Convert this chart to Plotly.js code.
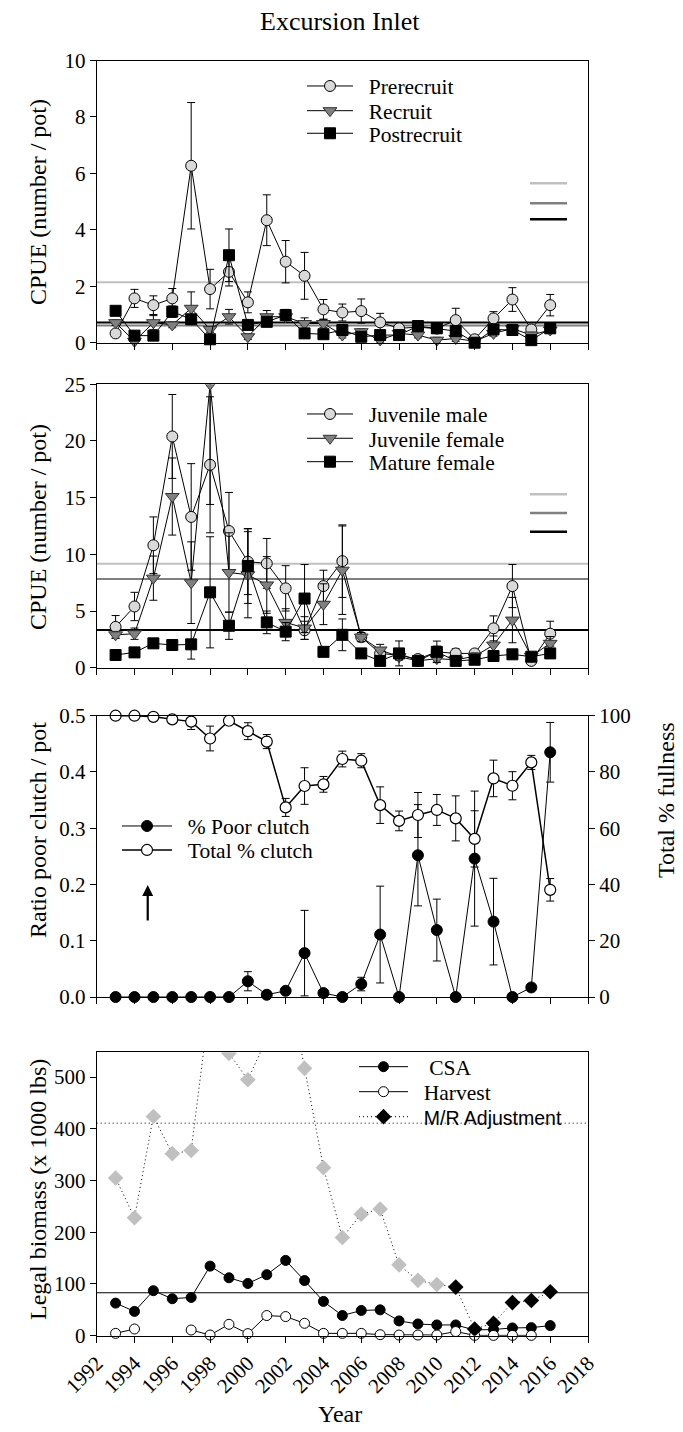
<!DOCTYPE html>
<html><head><meta charset="utf-8">
<script src="https://cdn.plot.ly/plotly-3.0.1.min.js"></script>
<style>html,body{margin:0;padding:0;background:#fff}#chart{width:683px;height:1432px}</style>
</head><body><div id="chart"></div>
<script>
// ---------------- DATA ----------------
const years = [1993,1994,1995,1996,1997,1998,1999,2000,2001,2002,2003,2004,2005,2006,2007,2008,2009,2010,2011,2012,2013,2014,2015,2016];
const xTicks = [1992,1994,1996,1998,2000,2002,2004,2006,2008,2010,2012,2014,2016,2018];

// Panel 1: legal-size CPUE
const prerecruit    = [0.33,1.57,1.33,1.57,6.27,1.90,2.51,1.43,4.34,2.87,2.37,1.18,1.07,1.12,0.72,0.51,0.55,0.50,0.80,0.12,0.86,1.53,0.47,1.33];
const prerecruitErr = [0.10,0.32,0.33,0.35,2.24,0.70,0.50,0.37,0.90,0.75,0.83,0.35,0.30,0.43,0.32,0.12,0.15,0.15,0.42,0.10,0.24,0.42,0.10,0.38];
const recruit       = [0.71,0.05,0.71,0.63,1.22,0.47,0.92,0.21,0.92,0.92,0.68,0.68,0.27,0.39,0.10,0.33,0.27,0.09,0.15,0.05,0.33,0.50,0.27,0.45];
const recruitErr    = [0.10,0.05,0.25,0.10,0.58,0.10,0.26,0.10,0.22,0.10,0.20,0.15,0.10,0.10,0.10,0.10,0.10,0.10,0.10,0.05,0.10,0.15,0.10,0.10];
const postrecruit   = [1.13,0.25,0.25,1.10,0.83,0.12,3.10,0.63,0.74,0.98,0.33,0.30,0.45,0.21,0.27,0.27,0.59,0.51,0.41,0.00,0.47,0.45,0.09,0.51];
const postrecruitErr= [0.15,0.05,0.05,0.20,0.15,0.05,0.93,0.10,0.10,0.20,0.10,0.10,0.10,0.05,0.05,0.05,0.10,0.10,0.10,0.00,0.10,0.10,0.05,0.10];
const meanLines1 = [2.14, 0.61, 0.72];   // prerecruit, recruit, postrecruit long-term means

// Panel 2: juvenile / female CPUE
const juvMale      = [3.6,5.4,10.8,20.4,13.3,17.9,12.06,9.35,9.2,7.0,3.3,7.2,9.4,2.7,1.26,1.1,0.76,1.4,1.26,1.26,3.47,7.2,0.6,3.0];
const juvMaleErr   = [1.0,1.25,2.5,3.7,4.7,6.0,3.4,2.9,2.2,2.0,0.8,1.4,3.2,0.4,0.4,0.3,0.3,0.5,0.4,0.3,1.1,1.9,0.3,1.1];
const juvFemale    = [2.9,3.0,7.9,15.1,7.5,25.0,8.4,8.2,7.3,4.0,3.5,5.6,8.6,2.7,1.56,0.97,0.6,0.8,0.7,1.0,2.0,4.2,1.0,2.15];
const juvFemaleErr = [0.3,0.5,1.95,3.4,3.6,10.6,3.5,3.8,2.5,1.2,1.0,1.8,3.9,0.4,0.5,0.3,0.3,0.3,0.3,0.3,0.8,2.0,0.3,0.6];
const matFemale    = [1.12,1.35,2.15,2.0,2.06,6.65,3.7,8.97,4.0,3.18,6.1,1.4,2.9,1.26,0.6,1.26,0.6,1.4,0.6,0.7,1.03,1.18,0.97,1.26];
const matFemaleErr = [0.4,0.4,0.4,0.3,1.3,4.9,1.2,3.3,1.0,0.8,3.0,0.3,1.4,0.3,0.3,1.1,0.3,0.95,0.3,0.3,0.3,0.3,0.3,0.3];
const meanLines2 = [9.18, 7.83, 3.32];

// Panel 3: clutch
const poorClutch    = [0,0,0,0,0,0,0,0.028,0.004,0.011,0.078,0.007,0,0.023,0.111,0,0.252,0.119,0,0.246,0.134,0,0.017,0.435];
const poorClutchErr = [0,0,0,0,0,0,0,0.017,0,0,0.076,0,0,0.012,0.086,0,0.09,0.055,0,0.12,0.077,0,0.006,0.053];
const totalClutch   = [100,100,99.6,98.7,97.9,91.9,98.2,94.5,90.8,67.4,75,75.6,84.6,84,68.2,62.6,64.7,66.5,63.5,56.2,77.7,75.1,83.4,38.1];
const totalClutchErr= [0,0,0.3,1.2,2.8,4.4,0.5,3,2.5,3.2,6.5,2.8,2.8,2.5,6.5,3.5,8,5.5,8,10,6.5,5,2.5,4];

// Panel 4: legal biomass (x 1000 lbs)
const csa     = [63,47,87,71.5,74,134.5,112,101,118,145.6,106.6,66.3,39,48.7,50,28.6,22.7,20.8,20.8,11,12,15,15.6,19.5];
const harvest = [4.5,13,null,null,11,1.3,22,4,39,37,24,4.5,4.5,4.5,2,1.3,1.3,1.3,8,0.6,0.6,0.6,0.6,null];
const mrAdj   = [305,228,424,352,358,650,546,495,575,710,517,325,190,235,245,137,107,99,94,13,24,64,68,85];
const mrFirstAdjustedYear = 2011;
const biomassSolidLine = 83;
const biomassDottedLine = 411;

// ---------------- LAYOUT HELPERS ----------------
const W = 683, H = 1432;
const px = v => v / W;
const py = v => 1 - v / H;
const SERIF = 'Liberation Serif, Times New Roman, serif';
const xDom = [px(96.7), px(588)];
const TICK = 21, TITLE = 24, LEG = 21.5;
const GAP = '&nbsp;&nbsp;';

function errs(arr){ return {type:'data', array: arr, visible:true, color:'#000', thickness:1, width:4}; }

const circleGrey = {symbol:'circle', size:11, color:'#d9d9d9', line:{color:'#000', width:1}};
const triGrey = {symbol:'triangle-down', size:12, color:'#808080', line:{color:'#333', width:1}};
const sqBlack = {symbol:'square', size:11, color:'#000', line:{color:'#000', width:1}};
const blackLine = {color:'#000', width:1};
const fineDot = '1px,3px';

const traces = [
  // panel 1
  {x:years, y:prerecruit, error_y:errs(prerecruitErr), name:GAP+'Prerecruit', mode:'lines+markers', marker:circleGrey, line:blackLine, xaxis:'x', yaxis:'y', legend:'legend', cliponaxis:false},
  {x:years, y:recruit, error_y:errs(recruitErr), name:GAP+'Recruit', mode:'lines+markers', marker:triGrey, line:blackLine, xaxis:'x', yaxis:'y', legend:'legend2', cliponaxis:false},
  {x:years, y:postrecruit, error_y:errs(postrecruitErr), name:GAP+'Postrecruit', mode:'lines+markers', marker:sqBlack, line:blackLine, xaxis:'x', yaxis:'y', legend:'legend3', cliponaxis:false},
  // panel 2
  {x:years, y:juvMale, error_y:errs(juvMaleErr), name:GAP+'Juvenile male', mode:'lines+markers', marker:circleGrey, line:blackLine, xaxis:'x2', yaxis:'y2', legend:'legend4', cliponaxis:false},
  {x:years, y:juvFemale, error_y:errs(juvFemaleErr), name:GAP+'Juvenile female', mode:'lines+markers', marker:triGrey, line:blackLine, xaxis:'x2', yaxis:'y2', legend:'legend5', cliponaxis:true},
  {x:years, y:matFemale, error_y:errs(matFemaleErr), name:GAP+'Mature female', mode:'lines+markers', marker:sqBlack, line:blackLine, xaxis:'x2', yaxis:'y2', legend:'legend6', cliponaxis:false},
  // panel 3
  {x:years, y:poorClutch, error_y:errs(poorClutchErr), name:GAP+'% Poor clutch', mode:'lines+markers', marker:{symbol:'circle', size:11, color:'#000', line:{color:'#000', width:1}}, line:blackLine, xaxis:'x3', yaxis:'y3', legend:'legend7', cliponaxis:false},
  {x:years, y:totalClutch, error_y:errs(totalClutchErr), name:GAP+'Total % clutch', mode:'lines+markers', marker:{symbol:'circle', size:11, color:'#fff', line:{color:'#000', width:1.2}}, line:{color:'#000', width:1.5}, xaxis:'x3', yaxis:'y5', legend:'legend8', cliponaxis:false},
  // panel 4
  {x:years, y:csa, name:GAP+'&nbsp;CSA', mode:'lines+markers', marker:{symbol:'circle', size:10, color:'#000', line:{color:'#000', width:1}}, line:blackLine, xaxis:'x4', yaxis:'y4', legend:'legend9', cliponaxis:false},
  {x:years, y:harvest, name:GAP+'Harvest', mode:'lines+markers', marker:{symbol:'circle', size:10, color:'#fff', line:{color:'#000', width:1}}, line:blackLine, xaxis:'x4', yaxis:'y4', legend:'legend10', cliponaxis:false},
  {x:years.slice().reverse(), y:mrAdj.slice().reverse(), name:GAP+'<span style="font-family:Liberation Sans, Arial, sans-serif;font-size:19.5px">M/R Adjustment</span>', mode:'lines+markers',
   marker:{symbol:'diamond', size:12, color:years.slice().reverse().map(yr => yr >= mrFirstAdjustedYear ? '#000' : '#c0c0c0'), line:{width:0}},
   line:{color:'#000', width:1, dash:fineDot}, xaxis:'x4', yaxis:'y4', legend:'legend11', cliponaxis:true}
];

function xAxis(anchor, labels){
  return {domain:xDom, anchor:anchor, range:[1992,2018], tickvals:xTicks, ticktext:xTicks.map(String),
    showticklabels:labels, tickangle:labels?-45:0, ticks:'outside', ticklen:6, tickcolor:'#000',
    showline:true, linecolor:'#000', linewidth:1, mirror:true, showgrid:false, zeroline:false,
    tickfont:{family:SERIF, size:TICK, color:'#000'}, automargin:false, fixedrange:true};
}
function yAxis(anchor, dom, range, tickvals, fmt, extra){
  return Object.assign({domain:dom, anchor:anchor, range:range, tickvals:tickvals, tickformat:fmt,
    ticks:'outside', ticklen:6, tickcolor:'#000', showline:true, linecolor:'#000', linewidth:1, mirror:true,
    showgrid:false, zeroline:false, tickfont:{family:SERIF, size:TICK, color:'#000'}, automargin:false, fixedrange:true}, extra||{});
}

const dom1 = [py(342.7), py(60.5)];
const dom2 = [py(667.7), py(384.3)];
const dom3 = [py(997), py(715.7)];
const dom4 = [py(1335.7), py(1052.3)];

// one legend per item so each row sits where it does in the reference
// lineStart: left end of the key line; lineLen: key line length
function legendAt(lineStart, rowY, lineLen){
  return {x:px(lineStart - 5), y:py(rowY), xanchor:'left', yanchor:'middle', bgcolor:'rgba(0,0,0,0)', borderwidth:0,
    font:{family:SERIF, size:LEG, color:'#000'}, tracegroupgap:0, itemwidth:lineLen, itemclick:false, itemdoubleclick:false};
}

const refShapes = [];
const lineColors = ['#c0c0c0', '#808080', '#000'];
meanLines1.forEach((v,i) => refShapes.push({type:'line', xref:'x domain', yref:'y', x0:0, x1:1, y0:v, y1:v, line:{color:lineColors[i], width:2}, layer:'below'}));
meanLines2.forEach((v,i) => refShapes.push({type:'line', xref:'x2 domain', yref:'y2', x0:0, x1:1, y0:v, y1:v, line:{color:lineColors[i], width:2}, layer:'below'}));
// short unlabeled key segments at right
[183.3, 203.3, 219.3].forEach((yy,i) => refShapes.push({type:'line', xref:'paper', yref:'paper', x0:px(530), x1:px(567), y0:py(yy), y1:py(yy), line:{color:lineColors[i], width:2.5}}));
[494.3, 513, 531.7].forEach((yy,i) => refShapes.push({type:'line', xref:'paper', yref:'paper', x0:px(530), x1:px(567), y0:py(yy), y1:py(yy), line:{color:lineColors[i], width:2.5}}));
refShapes.push({type:'line', xref:'x4 domain', yref:'y4', x0:0, x1:1, y0:biomassSolidLine, y1:biomassSolidLine, line:{color:'#000', width:1}, layer:'below'});
refShapes.push({type:'line', xref:'x4 domain', yref:'y4', x0:0, x1:1, y0:biomassDottedLine, y1:biomassDottedLine, line:{color:'#000', width:1, dash:fineDot}, layer:'below'});

const tf = s => ({family:SERIF, size:s, color:'#000'});
const annots = [
  {text:'Excursion Inlet', xref:'paper', yref:'paper', x:px(340), y:py(21), xanchor:'center', yanchor:'middle', showarrow:false, font:tf(26)},
  {text:'CPUE (number / pot)', xref:'paper', yref:'paper', x:px(38), y:py(202), textangle:-90, xanchor:'center', yanchor:'middle', showarrow:false, font:tf(TITLE)},
  {text:'CPUE (number / pot)', xref:'paper', yref:'paper', x:px(38), y:py(527), textangle:-90, xanchor:'center', yanchor:'middle', showarrow:false, font:tf(TITLE)},
  {text:'Ratio poor clutch / pot', xref:'paper', yref:'paper', x:px(38), y:py(830), textangle:-90, xanchor:'center', yanchor:'middle', showarrow:false, font:tf(TITLE)},
  {text:'Total % fullness', xref:'paper', yref:'paper', x:px(666), y:py(800), textangle:-90, xanchor:'center', yanchor:'middle', showarrow:false, font:tf(TITLE)},
  {text:'Legal biomass (x 1000 lbs)', xref:'paper', yref:'paper', x:px(38), y:py(1190), textangle:-90, xanchor:'center', yanchor:'middle', showarrow:false, font:tf(TITLE)},
  {text:'Year', xref:'paper', yref:'paper', x:px(340), y:py(1414), xanchor:'center', yanchor:'middle', showarrow:false, font:tf(TITLE)},
  {text:'', xref:'x3', yref:'y3', x:1994.7, y:0.199, ax:0, ay:37, showarrow:true, arrowhead:2, arrowsize:1, arrowwidth:2.2, arrowcolor:'#000'}
];

const layout = {
  width:W, height:H, margin:{l:0,r:0,t:0,b:0}, paper_bgcolor:'#fff', plot_bgcolor:'rgba(0,0,0,0)',
  font:{family:SERIF, size:TICK, color:'#000'},
  xaxis:xAxis('y', false), xaxis2:xAxis('y2', false), xaxis3:xAxis('y3', false), xaxis4:xAxis('y4', true),
  yaxis:yAxis('x', dom1, [0,10], [0,2,4,6,8,10], 'd'),
  yaxis2:yAxis('x2', dom2, [0,25], [0,5,10,15,20,25], 'd'),
  yaxis3:yAxis('x3', dom3, [0,0.5], [0,0.1,0.2,0.3,0.4,0.5], '.1f', {mirror:false}),
  yaxis5:yAxis('x3', dom3, [0,100], [0,20,40,60,80,100], 'd', {overlaying:'y3', side:'right', mirror:false}),
  yaxis4:yAxis('x4', dom4, [0,548], [0,100,200,300,400,500], 'd'),
  legend:legendAt(307, 86, 46), legend2:legendAt(307, 110.7, 46), legend3:legendAt(307, 133.3, 46),
  legend4:legendAt(307, 414, 46), legend5:legendAt(307, 438.3, 46), legend6:legendAt(307, 461.7, 46),
  legend7:legendAt(122, 826, 50), legend8:legendAt(122, 850, 50),
  legend9:legendAt(359, 1066.7, 49), legend10:legendAt(359, 1091.7, 49), legend11:legendAt(359, 1116.7, 49),
  shapes:refShapes, annotations:annots, showlegend:true
};

Plotly.newPlot('chart', traces, layout, {staticPlot:true, displayModeBar:false});
</script></body></html>
